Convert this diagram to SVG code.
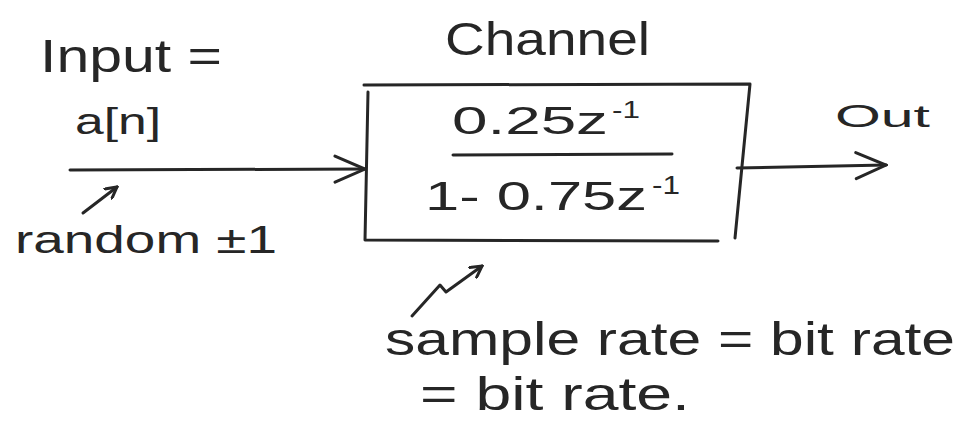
<svg xmlns="http://www.w3.org/2000/svg" width="961" height="435" viewBox="0 0 961 435">
<style>
.t{font-family:"Liberation Sans","DejaVu Sans",sans-serif;fill:#262626}
.ln{fill:none;stroke:#262626;stroke-width:3;stroke-linecap:round;stroke-linejoin:round}
</style>
<defs>
<marker id="ah" markerWidth="14" markerHeight="14" refX="12" refY="7" orient="auto" markerUnits="userSpaceOnUse">
<path d="M1,1 L12,7 L1,13" fill="none" stroke="#262626" stroke-width="3" stroke-linecap="round"/>
</marker>
<marker id="big" markerWidth="34" markerHeight="34" refX="32" refY="17" orient="auto" markerUnits="userSpaceOnUse">
<path d="M2,4 L32,17 L2,30" fill="none" stroke="#262626" stroke-width="3" stroke-linecap="round"/>
</marker>
</defs>
<rect width="961" height="435" fill="#ffffff"/>
<g id="input">
<text class="t" x="40" y="72" font-size="46" textLength="182" lengthAdjust="spacingAndGlyphs">Input =</text>
<text class="t" x="75" y="134" font-size="36" textLength="86" lengthAdjust="spacingAndGlyphs">a[n]</text>
</g>
<g id="random">
<text class="t" x="15" y="253" font-size="38" textLength="262" lengthAdjust="spacingAndGlyphs">random ±1</text>
</g>
<g id="channel">
<text class="t" x="445" y="55" font-size="46" textLength="205" lengthAdjust="spacingAndGlyphs">Channel</text>
<path class="ln" d="M364,85 L750,84 L735,238 M368,92 L365,240 L718,241"/>
<text class="t" x="452" y="134" font-size="38" textLength="156" lengthAdjust="spacingAndGlyphs">0.25z</text>
<text class="t" x="612" y="118" font-size="24" textLength="28" lengthAdjust="spacingAndGlyphs">-1</text>
<path class="ln" d="M453,155 L672,154"/>
<text class="t" x="425" y="210" font-size="40" textLength="222" lengthAdjust="spacingAndGlyphs">1- 0.75z</text>
<text class="t" x="652" y="194" font-size="26" textLength="28" lengthAdjust="spacingAndGlyphs">-1</text>
</g>
<g id="out">
<text class="t" x="835" y="127" font-size="32" textLength="95" lengthAdjust="spacingAndGlyphs">Out</text>
</g>
<g id="note">
<text class="t" x="385" y="355" font-size="46" textLength="570" lengthAdjust="spacingAndGlyphs">sample rate = bit rate</text>
<text class="t" x="420" y="410" font-size="46" textLength="270" lengthAdjust="spacingAndGlyphs">= bit rate.</text>
</g>
<g id="connectors">
<path class="ln" d="M70,170 L365,169" marker-end="url(#big)"/>
<path class="ln" d="M737,168 L886,165" marker-end="url(#big)"/>
<path class="ln" d="M83,213 L117,187" marker-end="url(#ah)"/>
<path class="ln" d="M412,316 L440,285 L446,292 L482,266" marker-end="url(#ah)"/>
</g>
</svg>
